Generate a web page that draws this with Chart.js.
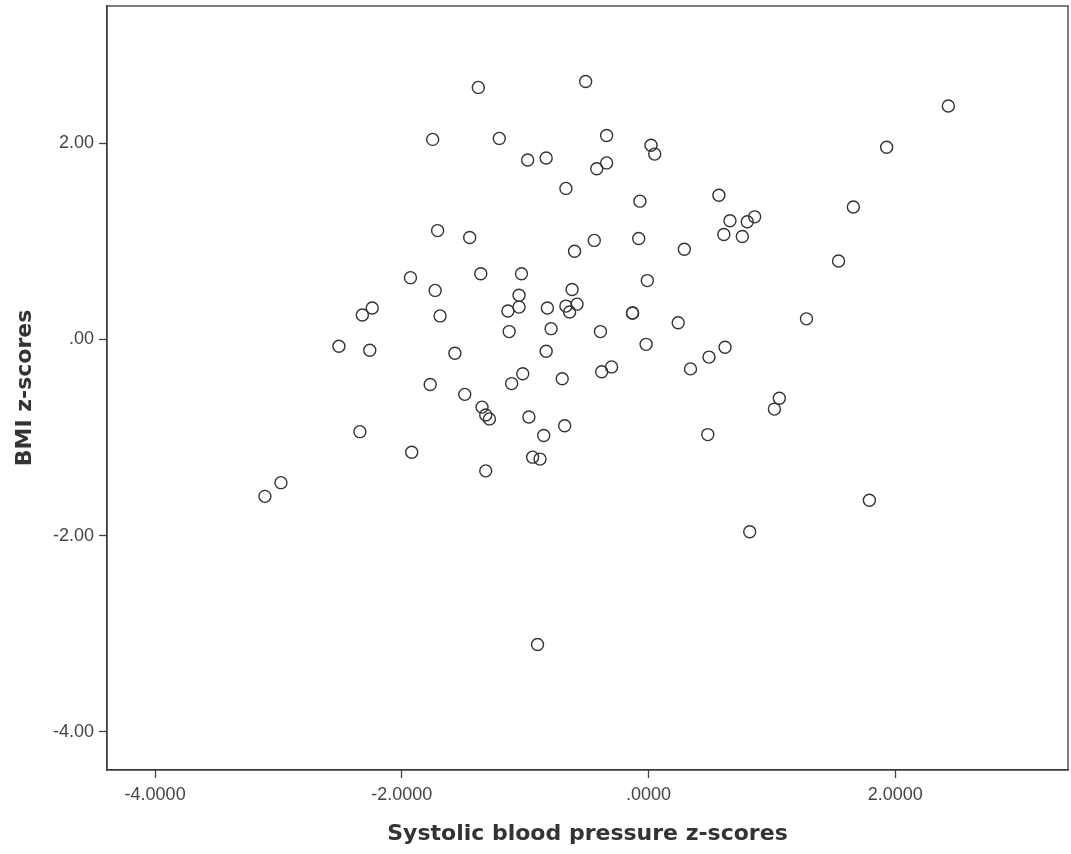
<!DOCTYPE html>
<html>
<head>
<meta charset="utf-8">
<script src="https://cdn.jsdelivr.net/npm/chart.js@4/dist/chart.umd.min.js"></script>
<style>
  html, body { margin: 0; padding: 0; background: #fff; }
  #wrap { width: 1071px; height: 854px; }
</style>
</head>
<body>
<div id="wrap"><canvas id="chart"></canvas></div>
<script>
'use strict';

// systolic blood pressure z-scores (x) and BMI z-scores (y)
const sbpZ = [-3.11, -2.98, -2.51, -2.32, -2.24, -2.26, -2.34, -1.92, -1.93, -1.75,
  -1.73, -1.71, -1.69, -1.77, -1.57, -1.49, -1.45, -1.38, -1.36, -1.35,
  -1.32, -1.29, -1.32, -1.21, -1.14, -1.13, -1.11, -1.05, -1.05, -1.03,
  -1.02, -0.98, -0.97, -0.94, -0.88, -0.90, -0.85, -0.83, -0.83, -0.82,
  -0.79, -0.70, -0.68, -0.67, -0.67, -0.64, -0.62, -0.60, -0.58, -0.51,
  -0.44, -0.42, -0.39, -0.38, -0.34, -0.34, -0.30, -0.13, -0.13, -0.08,
  -0.07, -0.01, -0.02, 0.02, 0.05, 0.24, 0.29, 0.34, 0.48, 0.49,
  0.57, 0.61, 0.62, 0.66, 0.76, 0.80, 0.86, 0.82, 1.02, 1.06,
  1.28, 1.54, 1.66, 1.79, 1.93, 2.43];
const bmiZ = [-1.60, -1.46, -0.07, 0.25, 0.32, -0.11, -0.94, -1.15, 0.63, 2.04,
  0.50, 1.11, 0.24, -0.46, -0.14, -0.56, 1.04, 2.57, 0.67, -0.69,
  -0.77, -0.81, -1.34, 2.05, 0.29, 0.08, -0.45, 0.45, 0.33, 0.67,
  -0.35, 1.83, -0.79, -1.20, -1.22, -3.11, -0.98, 1.85, -0.12, 0.32,
  0.11, -0.40, -0.88, 1.54, 0.34, 0.28, 0.51, 0.90, 0.36, 2.63,
  1.01, 1.74, 0.08, -0.33, 2.08, 1.80, -0.28, 0.27, 0.27, 1.03,
  1.41, 0.60, -0.05, 1.98, 1.89, 0.17, 0.92, -0.30, -0.97, -0.18,
  1.47, 1.07, -0.08, 1.21, 1.05, 1.20, 1.25, -1.96, -0.71, -0.60,
  0.21, 0.80, 1.35, -1.64, 1.96, 2.38];

const xTicks = [-4, -2, 0, 2];
const xTickLabels = ['-4.0000', '-2.0000', '.0000', '2.0000'];
const yTicks = [-4, -2, 0, 2];
const yTickLabels = ['-4.00', '-2.00', '.00', '2.00'];

const boxPlugin = {
  id: 'box',
  afterDraw(chart) {
    const a = chart.chartArea;
    const ctx = chart.ctx;
    ctx.save();
    ctx.strokeStyle = '#3a3a3a';
    ctx.lineWidth = 1.3;
    ctx.strokeRect(a.left, a.top, a.right - a.left, a.bottom - a.top);
    ctx.restore();
  }
};

const tickFont = { family: '"Liberation Sans", Arial, sans-serif', size: 18 };
const titleFont = { family: '"DejaVu Sans", Verdana, sans-serif', size: 22, weight: 'bold' };

new Chart(document.getElementById('chart'), {
  type: 'scatter',
  data: {
    datasets: [{
      data: sbpZ.map((x, i) => ({ x: x, y: bmiZ[i] })),
      pointStyle: 'circle',
      pointRadius: 6,
      pointHoverRadius: 6,
      backgroundColor: 'rgba(0,0,0,0)',
      borderColor: '#333',
      borderWidth: 1.4
    }]
  },
  options: {
    responsive: true,
    maintainAspectRatio: false,
    animation: false,
    layout: { autoPadding: false, padding: { top: 6, right: 3, left: 0, bottom: 0 } },
    plugins: { legend: { display: false }, tooltip: { enabled: false } },
    scales: {
      x: {
        type: 'linear',
        min: -4.39,
        max: 3.40,
        afterBuildTicks: s => { s.ticks = xTicks.map(v => ({ value: v })); },
        afterFit: s => { s.height = 84; s.paddingLeft = 0; s.paddingRight = 0; },
        ticks: {
          font: tickFont,
          color: '#444',
          padding: 6,
          maxRotation: 0,
          callback: v => xTickLabels[xTicks.indexOf(v)]
        },
        grid: { drawOnChartArea: false, tickLength: 8, tickColor: '#444', tickWidth: 1.3 },
        border: { color: '#3a3a3a', width: 1.3 },
        title: {
          display: true,
          text: 'Systolic blood pressure z-scores',
          font: titleFont,
          color: '#333',
          padding: { top: 0, bottom: 7 }
        }
      },
      y: {
        type: 'linear',
        min: -4.39,
        max: 3.40,
        afterBuildTicks: s => { s.ticks = yTicks.map(v => ({ value: v })); },
        afterFit: s => { s.width = 107; s.paddingTop = 0; s.paddingBottom = 0; },
        ticks: {
          font: tickFont,
          color: '#444',
          padding: 5,
          callback: v => yTickLabels[yTicks.indexOf(v)]
        },
        grid: { drawOnChartArea: false, tickLength: 8, tickColor: '#444', tickWidth: 1.3 },
        border: { color: '#3a3a3a', width: 1.3 },
        title: {
          display: true,
          text: 'BMI z-scores',
          font: titleFont,
          color: '#333',
          padding: { top: 12, bottom: 0 }
        }
      }
    }
  },
  plugins: [boxPlugin]
});
</script>
</body>
</html>
